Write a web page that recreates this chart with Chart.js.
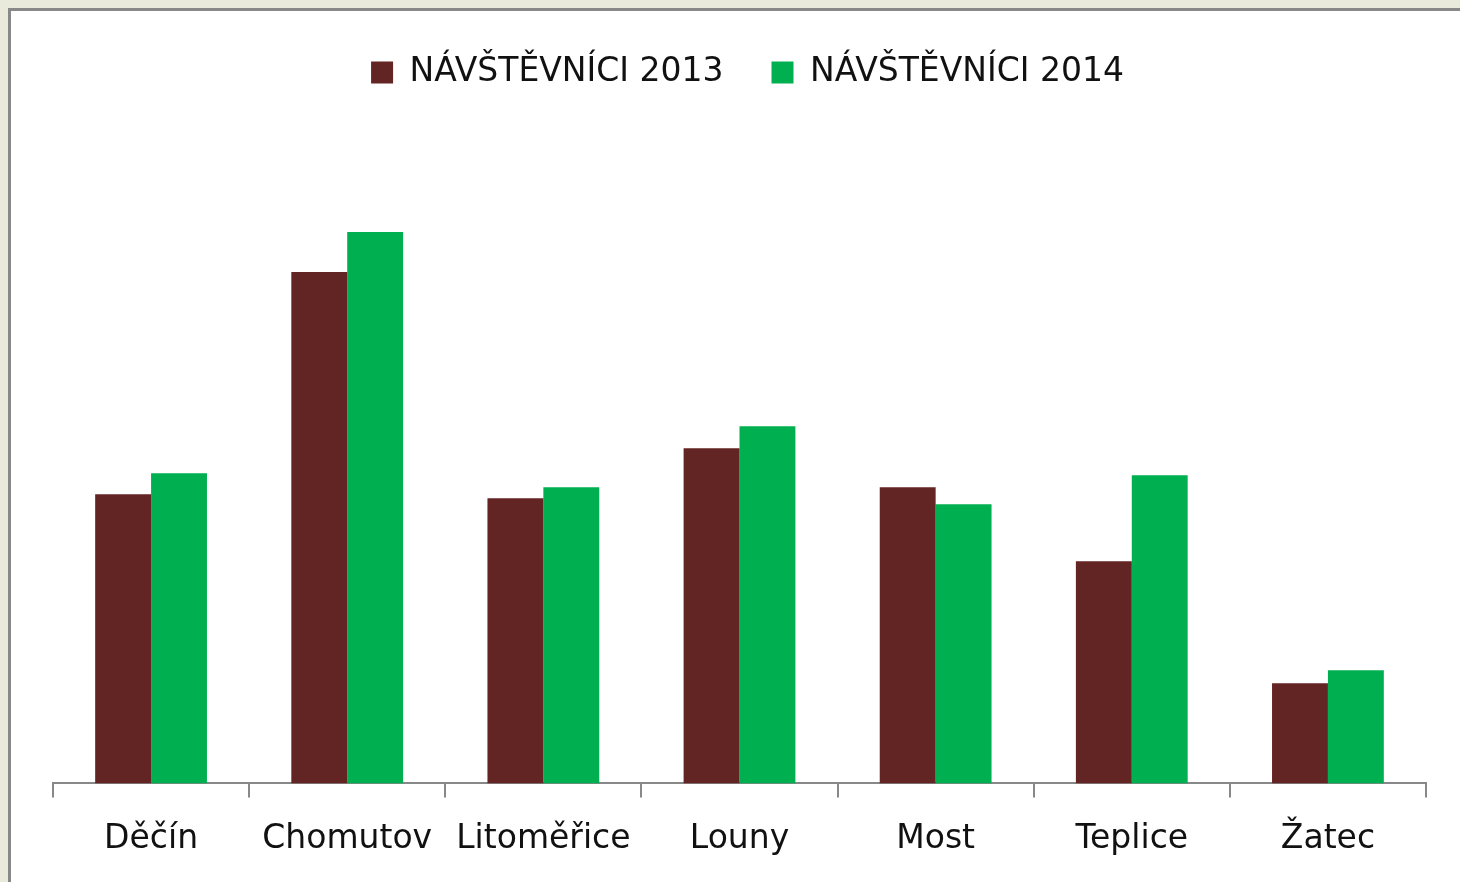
<!DOCTYPE html>
<html><head><meta charset="utf-8">
<script src="https://cdn.jsdelivr.net/npm/chart.js@4"></script>
<style>
html,body{margin:0;padding:0;width:1460px;height:882px;overflow:hidden;background:#e9e9dc;}
#frame{position:absolute;left:8px;top:8px;width:1452px;height:874px;background:#fff;border-left:3px solid #888;border-top:3px solid #888;box-sizing:border-box;}
#wrap{position:absolute;left:0;top:0;width:1449px;height:871px;}
</style></head><body>
<div id="frame"><div id="wrap"><canvas id="c"></canvas></div></div>
<script>
const categories = ["Děčín","Chomutov","Litoměřice","Louny","Most","Teplice","Žatec"];
const seriesNames = ["NÁVŠTĚVNÍCI 2013","NÁVŠTĚVNÍCI 2014"];
const visitors2013 = [289, 511, 285, 335, 296, 222, 100];
const visitors2014 = [310, 551, 296, 357, 279, 308, 113];
const colors = ["#632523", "#00b050"];

const legendShift = {
  id: 'legendShift',
  afterLayout(chart) {
    if (chart.legend) { chart.legend.left += 8; chart.legend.right += 8; }
  }
};

new Chart(document.getElementById('c'), {
  type: 'bar',
  data: {
    labels: categories,
    datasets: [
      {label: seriesNames[0], data: visitors2013, backgroundColor: colors[0]},
      {label: seriesNames[1], data: visitors2014, backgroundColor: colors[1]}
    ]
  },
  plugins: [legendShift],
  options: {
    responsive: true, maintainAspectRatio: false, animation: false,
    layout: {padding: {left: 42, right: 34, top: -3, bottom: 1}},
    datasets: {bar: {categoryPercentage: 0.57, barPercentage: 1.0}},
    plugins: {
      legend: {
        labels: {font: {family: 'DejaVu Sans', size: 33}, color: '#111', boxWidth: 22, boxHeight: 22, padding: 48},
        onClick: null
      },
      tooltip: {enabled: false}
    },
    scales: {
      x: {
        grid: {display: true, drawOnChartArea: false, offset: true, color: '#888', tickLength: 14, lineWidth: 2},
        border: {display: true, color: '#888', width: 2},
        ticks: {font: {family: 'DejaVu Sans', size: 33}, color: '#111', padding: 22}
      },
      y: {display: false, min: 0, max: 684}
    }
  }
});
</script>
</body></html>
